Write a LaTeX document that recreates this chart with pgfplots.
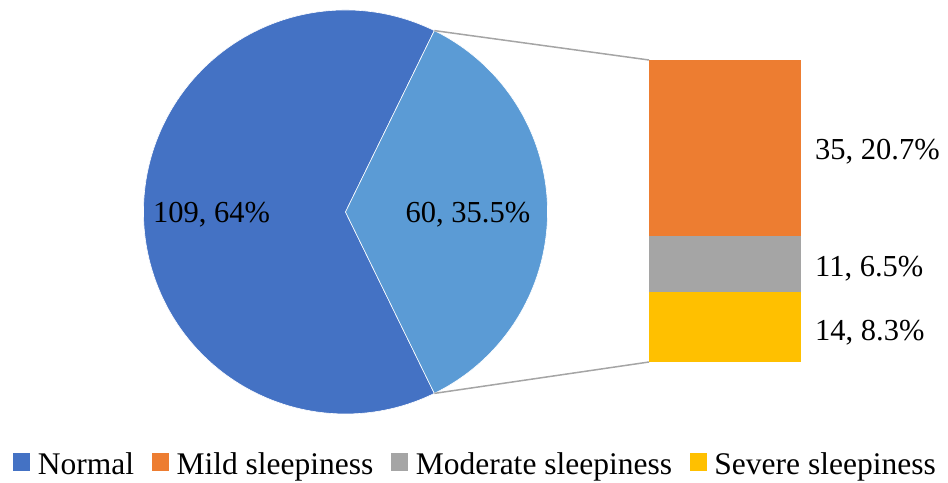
\documentclass[border=0pt]{standalone}
\usepackage{pgfplots}
\pgfplotsset{compat=1.18}
\usepackage{fontspec}
\setmainfont{Liberation Serif}
\definecolor{cNormal}{HTML}{4472C4}
\definecolor{cOther}{HTML}{5B9BD5}
\definecolor{cMild}{HTML}{ED7D31}
\definecolor{cMod}{HTML}{A5A5A5}
\definecolor{cSev}{HTML}{FFC000}
\definecolor{cLine}{HTML}{A5A5A5}
\begin{document}
\begin{tikzpicture}[font=\fontsize{30.5bp}{36bp}\selectfont]
\def\Normal{109}\def\Mild{35}\def\Moderate{11}\def\Severe{14}
\pgfmathsetmacro\Other{\Mild+\Moderate+\Severe}
\pgfmathsetmacro\half{\Other/(\Normal+\Other)*180}
\begin{axis}[name=frame, scale only axis, width=948bp, height=483bp,
  xmin=0, xmax=948, ymin=0, ymax=483, hide axis, clip=false,
  legend columns=4,
  legend style={at={(axis cs:13,18.5)}, anchor=west, draw=none, fill=none,
    inner sep=0pt, outer sep=0pt, font=\fontsize{31.5bp}{36bp}\selectfont,
    nodes={inner sep=0pt},
    /tikz/every odd column/.append style={column sep=8.5bp},
    /tikz/every even column/.append style={column sep=17.5bp}},
  legend cell align=left]
\addlegendimage{legend image code/.code={\fill[cNormal] (0bp,-6bp) rectangle (16bp,11bp);}}
\addlegendentry{Normal}
\addlegendimage{legend image code/.code={\fill[cMild] (0bp,-6bp) rectangle (16bp,11bp);}}
\addlegendentry{Mild sleepiness}
\addlegendimage{legend image code/.code={\fill[cMod] (0bp,-6bp) rectangle (16bp,11bp);}}
\addlegendentry{Moderate sleepiness}
\addlegendimage{legend image code/.code={\fill[cSev] (0bp,-6bp) rectangle (16bp,11bp);}}
\addlegendentry{Severe sleepiness}
\fill[cNormal, draw=white, line width=0.6bp] (axis cs:345.5,271) -- ++(\half:202bp)
  arc[start angle=\half, end angle={360-\half}, radius=202bp] -- cycle;
\fill[cOther, draw=white, line width=0.6bp] (axis cs:345.5,271) -- ++(-\half:202bp)
  arc[start angle=-\half, end angle=\half, radius=202bp] -- cycle;
\draw[cLine, line width=1.5bp] (axis cs:345.5,271) ++(\half:202bp) -- (axis cs:649,423);
\draw[cLine, line width=1.5bp] (axis cs:345.5,271) ++(-\half:202bp) -- (axis cs:649,121);
\node[anchor=base, inner sep=0pt] at (axis cs:211.5,260) {109, 64\%};
\node[anchor=base, inner sep=0pt] at (axis cs:468,260) {60, 35.5\%};
\node[anchor=base west, inner sep=0pt] at (axis cs:815,323) {35, 20.7\%};
\node[anchor=base west, inner sep=0pt] at (axis cs:815,206) {11, 6.5\%};
\node[anchor=base west, inner sep=0pt] at (axis cs:815,142) {14, 8.3\%};
\end{axis}
\begin{axis}[at={(649bp,121bp)}, anchor=south west, scale only axis,
  width=152bp, height=302bp, xmin=0, xmax=1, ymin=0, ymax=60,
  hide axis, ybar stacked, bar width=152bp, clip=false]
\addplot[fill=cSev, draw=none] coordinates {(0.5,14)};
\addplot[fill=cMod, draw=none] coordinates {(0.5,11)};
\addplot[fill=cMild, draw=none] coordinates {(0.5,35)};
\end{axis}
\pgfresetboundingbox
\path[use as bounding box] (0,0) rectangle (948bp,483bp);
\end{tikzpicture}
\end{document}
